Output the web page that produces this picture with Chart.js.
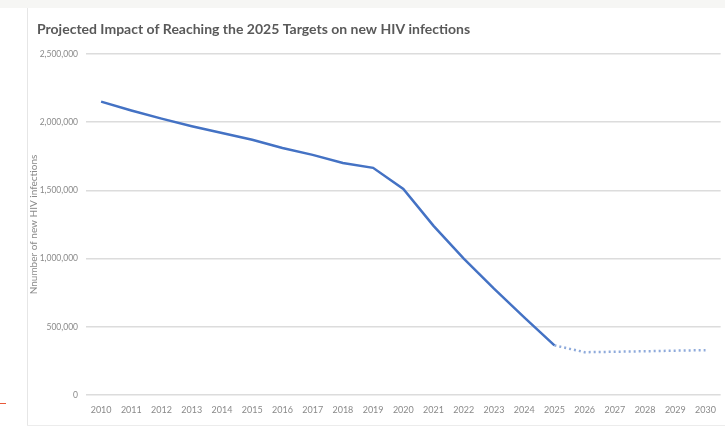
<!DOCTYPE html>
<html>
<head>
<meta charset="utf-8">
<script src="https://cdn.jsdelivr.net/npm/chart.js@4/dist/chart.umd.min.js"></script>
<style>
  html, body { margin: 0; padding: 0; background: #fff; }
  #marco { position: absolute; left: 0; top: 0; width: 725px; height: 429px; overflow: hidden; }
  #banda { position: absolute; left: 0; top: 0; width: 725px; height: 8px; background: #f6f6f4; }
  #borde { position: absolute; left: 27px; top: 8px; width: 1px; height: 417px; background: #e6e6e6; }
  #pie { position: absolute; left: 27px; top: 425px; width: 698px; height: 1px; background: #ececec; }
  #rojo { position: absolute; left: 0; top: 403px; width: 6px; height: 1px; background: #e8593a; }
  #caja { position: absolute; left: 28px; top: 8px; width: 697px; height: 417px; }
</style>
</head>
<body>
<div id="marco">
  <div id="banda"></div>
  <div id="borde"></div>
  <div id="pie"></div>
  <div id="rojo"></div>
  <div id="caja"><canvas id="grafico"></canvas></div>
</div>
<script>
const years = ["2010","2011","2012","2013","2014","2015","2016","2017","2018","2019","2020",
               "2021","2022","2023","2024","2025","2026","2027","2028","2029","2030"];
const actualValues = [2150000, 2085000, 2025000, 1970000, 1920000, 1870000, 1810000, 1760000, 1700000, 1665000, 1510000,
                      1240000, 1000000, 780000, 570000, 365000, null, null, null, null, null];
const projectedValues = [null, null, null, null, null, null, null, null, null, null, null,
                         null, null, null, null, 365000, 315000, 318000, 322000, 326000, 330000];
const yTicks = [0, 500000, 1000000, 1500000, 2000000, 2500000];

const fuente = "Lato, 'Open Sans', sans-serif";

// mueve el titulo un poco a la derecha, como en el original
const correrTitulo = {
    id: 'correrTitulo',
    afterLayout(chart) {
        if (chart.titleBlock) chart.titleBlock.left += 9;
    }
};

new Chart(document.getElementById('grafico'), {
    type: 'line',
    data: {
        labels: years,
        datasets: [
            { data: actualValues, borderColor: '#4472c4', borderWidth: 2.5, pointRadius: 0, tension: 0 },
            { data: projectedValues, borderColor: '#8eaadb', borderWidth: 2.5, borderDash: [2, 3], pointRadius: 0, tension: 0 }
        ]
    },
    plugins: [correrTitulo],
    options: {
        responsive: true,
        maintainAspectRatio: false,
        animation: false,
        layout: { padding: { left: 0, right: 1, top: 13, bottom: 1 } },
        plugins: {
            legend: { display: false },
            tooltip: { enabled: false },
            title: {
                display: true,
                text: 'Projected Impact of Reaching the 2025 Targets on new HIV infections',
                align: 'start',
                color: '#595959',
                font: { family: fuente, size: 14, weight: 'bold' },
                padding: { top: 0, bottom: 16 }
            }
        },
        scales: {
            x: {
                offset: true,
                grid: { display: false, drawTicks: false },
                border: { display: false },
                ticks: { color: '#8a8a8a', font: { family: fuente, size: 9 }, maxRotation: 0, autoSkip: false, padding: 9 }
            },
            y: {
                min: 0,
                max: 2500000,
                afterBuildTicks: (s) => { s.ticks = yTicks.map(v => ({ value: v })); },
                afterFit: (s) => { s.width = 58; },
                grid: { color: '#dcdcdc', lineWidth: 1.5, drawTicks: false },
                border: { display: false },
                title: {
                    display: true,
                    text: 'Nnumber of new HIV infections',
                    color: '#8a8a8a',
                    font: { family: fuente, size: 10 },
                    padding: { top: 0, bottom: 0 }
                },
                ticks: {
                    color: '#8a8a8a',
                    font: { family: fuente, size: 8.5 },
                    padding: 8,
                    callback: (v) => v.toLocaleString('en-US')
                }
            }
        }
    }
});
</script>
</body>
</html>
